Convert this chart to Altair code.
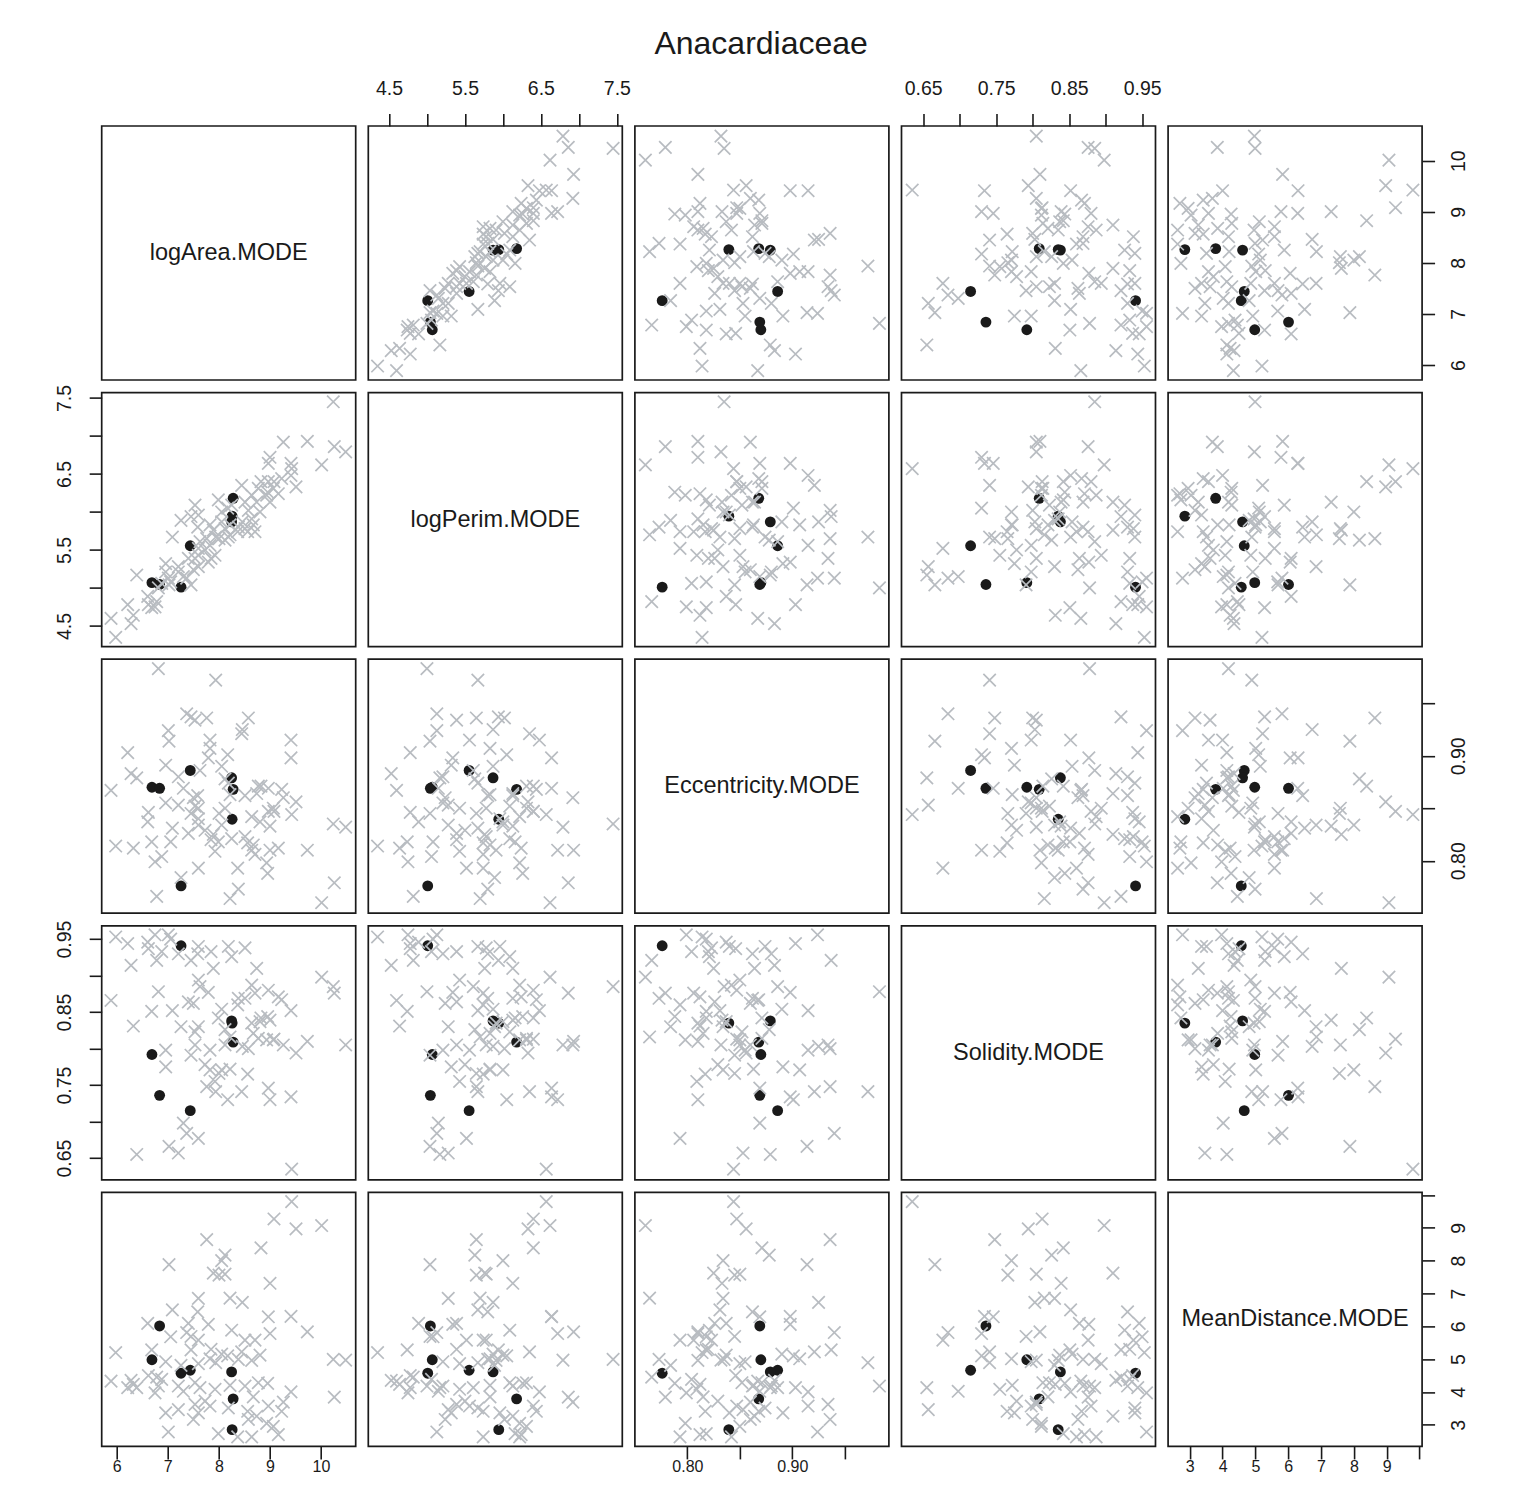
import altair as alt
import pandas as pd

chart_title = "Anacardiaceae"
var_keys = ["logArea", "logPerim", "Ecc", "Sol", "MD"]
var_labels = ["logArea.MODE", "logPerim.MODE", "Eccentricity.MODE", "Solidity.MODE", "MeanDistance.MODE"]

# ---- grey observations (x markers) ----
gray_logArea = [5.889, 5.980, 6.215, 6.281, 6.326, 6.392, 6.607, 6.620, 6.685, 6.750, 6.783, 6.816,
                6.881, 6.959, 6.959, 7.011, 7.024, 7.057, 7.090, 7.207, 7.207, 7.259, 7.305, 7.370, 7.403, 7.455, 7.455, 7.501,
                7.533, 7.533, 7.586, 7.599, 7.599, 7.599, 7.599, 7.631, 7.729, 7.762, 7.794, 7.827, 7.827, 7.847, 7.892, 7.925,
                7.938, 7.990, 8.003, 8.055, 8.055, 8.121, 8.121, 8.173,
                8.186, 8.219, 8.219, 8.251, 8.369, 8.382, 8.447, 8.460, 8.512, 8.512, 8.564, 8.578, 8.643, 8.643, 8.675, 8.708,
                8.741, 8.773, 8.806, 8.825,
                8.936, 8.956, 8.969, 8.969, 9.002, 9.002, 9.067, 9.080, 9.165, 9.230, 9.263, 9.413, 9.413, 9.426,
                9.511, 9.733, 10.013, 10.241, 10.261, 10.483]
gray_logPerim = [4.60, 4.35, 4.78, 4.53, 4.64, 5.17, 4.89, 4.78, 4.74, 4.75, 4.82, 5.00,
                 5.06, 5.21, 5.32, 5.13, 5.04, 5.08, 5.67, 5.21, 5.28, 5.89, 5.15, 5.13, 5.39, 5.04, 5.94, 5.24,
                 6.09, 5.39, 5.80, 5.28, 5.52, 5.43, 5.96, 5.61, 5.50, 5.65, 5.34, 5.83, 5.56, 5.39, 5.76, 5.43,
                 5.67, 6.16, 5.65, 6.00, 5.87, 5.63, 5.78, 6.05,
                 5.67, 5.70, 5.83, 6.09, 5.74, 5.80, 6.35, 5.87, 5.78, 6.13, 5.74, 6.02, 5.91, 6.22, 5.83, 5.74,
                 6.13, 6.31, 6.00, 6.40,
                 6.22, 6.26, 6.64, 6.40, 6.13, 6.72, 6.31, 6.40, 6.24, 6.44, 6.92, 6.64, 6.48, 6.57,
                 6.33, 6.93, 6.62, 7.45, 6.86, 6.79]
gray_ecc = [0.867, 0.814, 0.903, 0.883, 0.812, 0.879, 0.837, 0.846, 0.818, 0.799, 0.766, 0.983,
            0.804, 0.855, 0.891, 0.924, 0.914, 0.818, 0.831, 0.880, 0.853, 0.784, 0.869, 0.940, 0.826, 0.845, 0.937, 0.860,
            0.852, 0.934, 0.862, 0.834, 0.793, 0.850, 0.840, 0.886, 0.829, 0.936, 0.898, 0.907, 0.915, 0.820, 0.825, 0.809,
            0.972, 0.818, 0.845, 0.834, 0.890, 0.878, 0.850, 0.901,
            0.874, 0.764, 0.863, 0.821, 0.793, 0.773, 0.921, 0.925, 0.823, 0.862, 0.817, 0.936, 0.810, 0.842, 0.815, 0.806,
            0.864, 0.871, 0.837, 0.871,
            0.798, 0.788, 0.869, 0.847, 0.833, 0.810, 0.850, 0.847, 0.812, 0.868, 0.860, 0.898, 0.915, 0.844,
            0.856, 0.810, 0.760, 0.835, 0.779, 0.832]
gray_sol = [0.866, 0.953, 0.944, 0.914, 0.831, 0.655, 0.946, 0.937, 0.851, 0.956, 0.921, 0.878,
            0.933, 0.798, 0.775, 0.956, 0.666, 0.950, 0.852, 0.930, 0.657, 0.830, 0.698, 0.684, 0.864, 0.791, 0.921, 0.862,
            0.823, 0.805, 0.930, 0.830, 0.677, 0.894, 0.940, 0.885, 0.778, 0.748, 0.877, 0.771, 0.798, 0.933, 0.910, 0.755,
            0.741, 0.842, 0.766, 0.771, 0.854, 0.826, 0.805, 0.730,
            0.940, 0.816, 0.772, 0.926, 0.860, 0.869, 0.741, 0.803, 0.938, 0.869, 0.765, 0.800, 0.835, 0.887, 0.821, 0.876,
            0.910, 0.814, 0.837, 0.842,
            0.812, 0.844, 0.746, 0.880, 0.839, 0.730, 0.812, 0.813, 0.871, 0.867, 0.805, 0.734, 0.852, 0.635,
            0.794, 0.810, 0.898, 0.885, 0.876, 0.805]
gray_md = [4.33, 5.20, 4.13, 4.35, 4.23, 4.13, 6.09, 4.50, 5.28, 3.97, 4.45, 4.18,
           4.38, 4.92, 3.36, 2.78, 7.88, 5.68, 6.50, 4.18, 3.46, 4.81, 4.02, 5.81, 6.09, 5.69, 5.28, 3.16,
           4.28, 3.62, 6.44, 6.85, 5.58, 4.86, 3.36, 4.13, 3.72, 8.64, 6.06, 5.01, 3.57, 5.30, 7.62, 4.08,
           4.89, 2.73, 7.56, 8.00, 5.15, 8.17, 7.59, 5.10,
           3.51, 6.86, 4.20, 5.88, 2.63, 4.99, 5.22, 6.73, 5.58, 4.18, 3.41, 3.16, 4.96, 2.63, 3.85, 5.58,
           3.26, 4.28, 5.12, 8.39,
           3.04, 4.26, 6.29, 3.57, 7.31, 5.78, 2.95, 9.27, 2.70, 3.41, 3.69, 6.30, 4.00, 9.80,
           8.97, 5.83, 9.07, 4.99, 3.84, 4.97]

# ---- highlighted observations (black dots) ----
black_logArea = [6.69, 6.84, 7.26, 7.44, 8.25, 8.28, 8.26]
black_logPerim = [5.07, 5.045, 5.01, 5.555, 5.87, 6.18, 5.945]
black_ecc = [0.870, 0.869, 0.776, 0.886, 0.879, 0.868, 0.8395]
black_sol = [0.792, 0.736, 0.941, 0.715, 0.838, 0.809, 0.835]
black_md = [4.98, 6.01, 4.57, 4.66, 4.61, 3.79, 2.85]

# ---- axis settings ----
domains = {
    "logArea": [5.706, 10.68],
    "logPerim": [4.228, 7.571],
    "Ecc": [0.750, 0.992],
    "Sol": [0.6203, 0.9683],
    "MD": [2.34, 10.08],
}
tick_values = {
    "logArea": [6, 7, 8, 9, 10],
    "logPerim": [4.5, 5.0, 5.5, 6.0, 6.5, 7.0, 7.5],
    "Ecc": [0.80, 0.85, 0.90, 0.95],
    "Sol": [0.65, 0.70, 0.75, 0.80, 0.85, 0.90, 0.95],
    "MD": [3, 4, 5, 6, 7, 8, 9, 10],
}
tick_labels = {
    "logArea": ["6", "7", "8", "9", "10"],
    "logPerim": ["4.5", "", "5.5", "", "6.5", "", "7.5"],
    "Ecc": ["0.80", "", "0.90", ""],
    "Sol": ["0.65", "", "0.75", "", "0.85", "", "0.95"],
    "MD": ["3", "4", "5", "6", "7", "8", "9", ""],
}

gray_df = pd.DataFrame({"logArea": gray_logArea, "logPerim": gray_logPerim, "Ecc": gray_ecc,
                        "Sol": gray_sol, "MD": gray_md})
black_df = pd.DataFrame({"logArea": black_logArea, "logPerim": black_logPerim, "Ecc": black_ecc,
                         "Sol": black_sol, "MD": black_md})

FONT = "Liberation Sans"
INK = "#1a1a1a"
GREY = "#b8bcc1"
PANEL = 254
GAP = 12.6


def label_expr(key):
    parts = []
    for v, lab in zip(tick_values[key], tick_labels[key]):
        if lab:
            parts.append(f"abs(datum.value - {v}) < 1e-6 ? '{lab}' : ")
    return "".join(parts) + "''"


def make_axis(key, orient):
    if orient is None:
        return None
    kw = dict(orient=orient, values=tick_values[key], labelExpr=label_expr(key), title=None,
              grid=False, domain=False, ticks=True, tickSize=12.5, tickWidth=1.6, tickColor=INK,
              labelFont=FONT, labelFontSize=19.5, labelColor=INK, labelPadding=15,
              labelOverlap=False, labelFlush=False, labelBound=False)
    if orient == "left":
        kw.update(labelAngle=270, labelAlign="center", labelBaseline="bottom")
    elif orient == "right":
        kw.update(labelAngle=270, labelAlign="center", labelBaseline="top")
    elif orient == "top":
        kw.update(labelAngle=0, labelAlign="center", labelBaseline="bottom")
    else:
        # bottom labels sit at the lower page edge: kept slightly closer so they stay visible
        kw.update(labelAngle=0, labelAlign="center", labelBaseline="top",
                  labelPadding=0, labelFontSize=16)
    return alt.Axis(**kw)


def scale(key):
    return alt.Scale(domain=domains[key], nice=False, zero=False)


def panel(i, j):
    yk, xk = var_keys[i], var_keys[j]
    xorient = "top" if (i == 0 and j % 2 == 1) else ("bottom" if (i == 4 and j % 2 == 0) else None)
    yorient = "left" if (j == 0 and i % 2 == 1) else ("right" if (j == 4 and i % 2 == 0) else None)
    xenc = alt.X(f"{xk}:Q", scale=scale(xk), axis=make_axis(xk, xorient))
    yenc = alt.Y(f"{yk}:Q", scale=scale(yk), axis=make_axis(yk, yorient))
    if i == j:
        base = alt.Chart(gray_df).mark_point(opacity=0).encode(x=xenc, y=yenc)
        txt = alt.Chart(pd.DataFrame({"name": [var_labels[i]]})).mark_text(
            font=FONT, fontSize=23.5, color=INK, align="center", baseline="middle"
        ).encode(text="name:N", x=alt.value(PANEL / 2), y=alt.value(PANEL / 2))
        return alt.layer(base, txt).properties(width=PANEL, height=PANEL)
    black = alt.Chart(black_df).mark_circle(size=118, color=INK, opacity=1).encode(x=xenc, y=yenc)
    gray = alt.Chart(gray_df).mark_point(
        shape="M-1,-1L1,1M-1,1L1,-1", filled=False, size=155, strokeWidth=1.7, color=GREY, opacity=1
    ).encode(x=xenc, y=yenc)
    return alt.layer(black, gray).properties(width=PANEL, height=PANEL)


panels = [panel(i, j) for i in range(5) for j in range(5)]

chart = alt.concat(*panels, columns=5, spacing=GAP, bounds="flush").properties(
    title=alt.Title(chart_title, font=FONT, fontSize=32, fontWeight="normal", color=INK,
                    anchor="middle", frame="bounds", offset=17),
    autosize=alt.AutoSizeParams(type="none"),
    padding={"left": 93.7, "top": 118, "right": 1386, "bottom": 1350},
    background="white",
).configure_view(stroke=INK, strokeWidth=1.7)

chart.save("out.html", embed_options={"renderer": "svg", "actions": False})
